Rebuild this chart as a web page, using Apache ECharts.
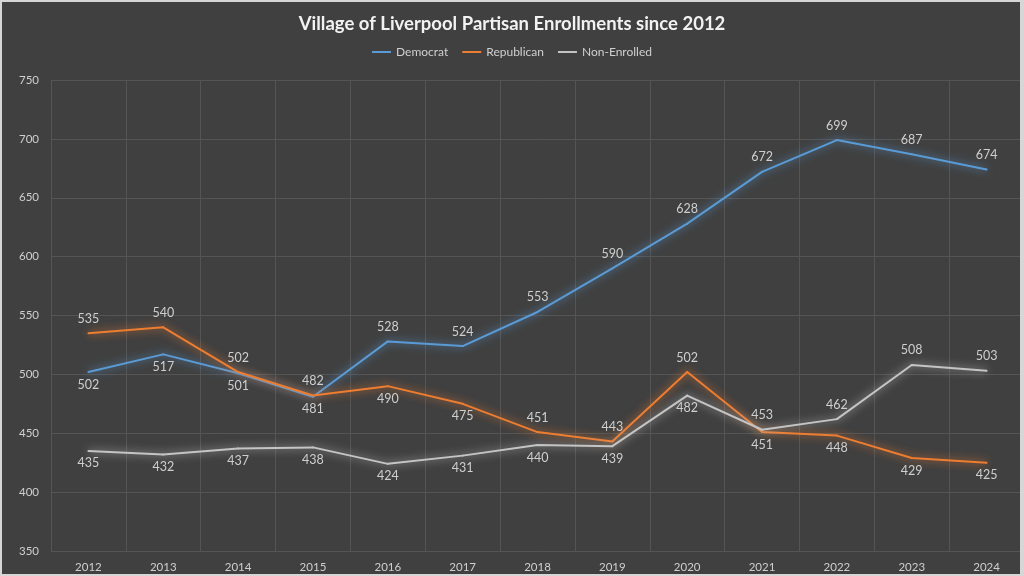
<!DOCTYPE html>
<html>
<head>
<meta charset="utf-8">
<script src="https://cdn.jsdelivr.net/npm/echarts@6/dist/echarts.min.js"></script>
<style>
html,body{margin:0;padding:0;background:#404040;}
#chart{position:absolute;left:0;top:0;width:1024px;height:576px;}
#frame{position:absolute;left:0;top:0;width:1024px;height:576px;box-sizing:border-box;border:2px solid #d6d6d6;border-right-width:4px;pointer-events:none;}
</style>
</head>
<body>
<div id="chart"></div>
<div id="frame"></div>
<script>
const years = ['2012','2013','2014','2015','2016','2017','2018','2019','2020','2021','2022','2023','2024'];
const democrat = [502,517,501,481,528,524,553,590,628,672,699,687,674];
const republican = [535,540,502,482,490,475,451,443,502,451,448,429,425];
const nonEnrolled = [435,432,437,438,424,431,440,439,482,453,462,508,503];

// label placement per point (style only)
const demPos = ['bottom','bottom','bottom','bottom','top','top','top','top','top','top','top','top','top'];
const repPos = ['top','top','top','top','bottom','bottom','top','top','top','bottom','bottom','bottom','bottom'];
const nonPos = ['bottom','bottom','bottom','bottom','bottom','bottom','bottom','bottom','bottom','top','top','top','top'];

const FONT = 'Lato, "Open Sans", sans-serif';
function mk(name, vals, pos, color){
  return {
    name: name, type: 'line', symbol: 'circle', symbolSize: 2, showSymbol: true,
    data: vals.map((v,i)=>({value:v, label:{position:pos[i], distance: pos[i]==='top'?7:5}})),
    lineStyle: {color: color, width: 2, shadowColor: color, shadowBlur: 8},
    itemStyle: {color: color},
    label: {show: true, color: '#cfcfcf', fontSize: 12.5, fontFamily: FONT},
    z: 3
  };
}
const chart = echarts.init(document.getElementById('chart'));
chart.setOption({
  backgroundColor: '#404040',
  animation: false,
  title: {
    text: 'Village of Liverpool Partisan Enrollments since 2012',
    left: 'center', top: 10,
    textStyle: {color: '#f2f2f2', fontSize: 18.5, fontWeight: 'bold', fontFamily: FONT}
  },
  legend: {
    top: 41, left: 'center',
    icon: 'rect', itemWidth: 19, itemHeight: 2, itemGap: 14,
    textStyle: {color: '#cfcfcf', fontSize: 12, fontFamily: FONT},
    data: ['Democrat','Republican','Non-Enrolled']
  },
  grid: {left: 51, right: 0, top: 80, bottom: 25},
  xAxis: {
    type: 'category', data: years, boundaryGap: true,
    axisLine: {show: false}, axisTick: {show: false},
    axisLabel: {color: '#cfcfcf', fontSize: 11.5, fontFamily: FONT, margin: 10},
    splitLine: {show: true, lineStyle: {color: '#555555', width: 1}}
  },
  yAxis: {
    type: 'value', min: 350, max: 750, interval: 50,
    axisLine: {show: false}, axisTick: {show: false},
    axisLabel: {color: '#cfcfcf', fontSize: 11.5, fontFamily: FONT, margin: 12},
    splitLine: {lineStyle: {color: '#555555', width: 1}}
  },
  series: [
    mk('Democrat', democrat, demPos, '#5b9bd5'),
    mk('Republican', republican, repPos, '#ed7d31'),
    mk('Non-Enrolled', nonEnrolled, nonPos, '#c4c4c4')
  ]
});
</script>
</body>
</html>
